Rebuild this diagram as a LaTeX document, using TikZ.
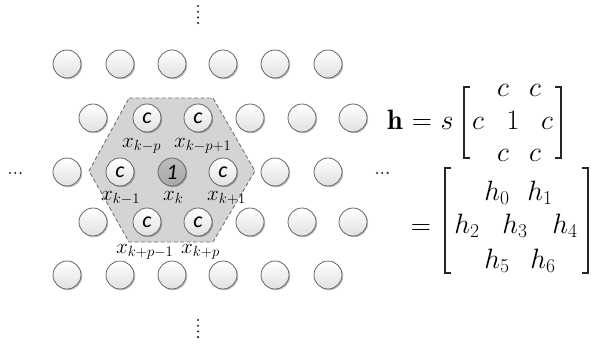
\RequirePackage{fix-cm}
\documentclass[tikz,border=0pt]{standalone}
\usepackage{fontspec}
\newfontfamily\cfont{Carlito}
\usetikzlibrary{shadows}
\tikzset{
  dot/.style={circle,fill=black!85,inner sep=0pt,minimum size=2.3pt},
  ball/.style={circle,minimum size=28pt,inner sep=0pt,draw=black!60,line width=0.8pt,
    top color=white,bottom color=black!12,
    drop shadow={shadow xshift=1.2pt,shadow yshift=-1.2pt,fill=black,opacity=0.25}},
  cball/.style={ball,font=\cfont\itshape\fontsize{22}{22}\selectfont},
  oneball/.style={cball,top color=black!26,bottom color=black!34},
  lab/.style={anchor=base west,inner sep=0pt,font=\fontsize{21}{22}\selectfont},
  eq/.style={anchor=base,inner sep=0pt,font=\fontsize{28}{30}\selectfont},
  brk/.style={line width=1.5pt,black!85},
  hexa/.style={fill=black!17,draw=black!55,dashed,dash pattern=on 4pt off 2.5pt,line width=0.9pt}
}
\begin{document}
\begin{tikzpicture}[x=1pt,y=-1pt]
\useasboundingbox (0,0) rectangle (591,345);
% hexagon
\draw[hexa] (129,98) -- (213,98) -- (255,171) -- (213,242) -- (129,242) -- (89,171) -- cycle;
% rows of plain circles
\foreach \x [count=\i] in {67,120,172,223,275,328}{
  \node[ball] (ra\i) at (\x,64) {};
  \node[ball] (re\i) at (\x,275) {};
}
\foreach \x [count=\i] in {93,250,302,353}{
  \node[ball] (rb\i) at (\x,118) {};
  \node[ball] (rd\i) at (\x,222) {};
}
\foreach \x [count=\i] in {67,275,328}{
  \node[ball] (rc\i) at (\x,172) {};
}
% kernel circles
\node[cball] (kmp) at (147,118) {c};
\node[cball] (kmp1) at (198,118) {c};
\node[cball] (km1) at (120,172) {c};
\node[oneball] (k0) at (172,172) {1};
\node[cball] (kp1) at (223,172) {c};
\node[cball] (kpm1) at (147,222) {c};
\node[cball] (kpp) at (198,222) {c};
% labels
\node[lab] (lkmp) at (122,147) {$x_{k-p}$};
\node[lab] (lkmp1) at (174,147) {$x_{k-p+1}$};
\node[lab] (lkm1) at (101,200) {$x_{k-1}$};
\node[lab] (lk) at (163,200) {$x_{k}$};
\node[lab] (lkp1) at (207,200) {$x_{k+1}$};
\node[lab] (lkpm1) at (116,253) {$x_{k+p-1}$};
\node[lab] (lkpp) at (181,253) {$x_{k+p}$};
% dots
\foreach \y [count=\i] in {6,11.7,17.4,23.1}{\node[dot] (dt\i) at (198,\y) {};}
\foreach \y [count=\i] in {320,325.7,331.4,337.1}{\node[dot] (db\i) at (198,\y) {};}
\foreach \x [count=\i] in {10,15.3,20.6}{\node[dot] (dl\i) at (\x,173) {};}
\foreach \x [count=\i] in {377,382.3,387.6}{\node[dot] (dr\i) at (\x,173) {};}
% equation 1
\node[eq] (hb) at (395,129) {$\mathbf{h}$};
\node[eq] (eq1) at (422,129) {$=$};
\node[eq] (s) at (447,129) {$s$};
\draw[brk] (470,87) -- (464,87) -- (464,158) -- (470,158);
\draw[brk] (555,87) -- (561,87) -- (561,158) -- (555,158);
\node[eq] (m11) at (503,96) {$c$};
\node[eq] (m12) at (535,96) {$c$};
\node[eq] (m21) at (478,129) {$c$};
\node[eq] (m22) at (513,129) {$1$};
\node[eq] (m23) at (547,129) {$c$};
\node[eq] (m31) at (503,161) {$c$};
\node[eq] (m32) at (535,161) {$c$};
% equation 2
\node[eq] (eq2) at (421,234) {$=$};
\draw[brk] (451,168) -- (445,168) -- (445,273) -- (451,273);
\draw[brk] (582,168) -- (588,168) -- (588,273) -- (582,273);
\node[eq] (h0) at (497,200) {$h_0$};
\node[eq] (h1) at (540,200) {$h_1$};
\node[eq] (h2) at (467,233) {$h_2$};
\node[eq] (h3) at (515,233) {$h_3$};
\node[eq] (h4) at (565,233) {$h_4$};
\node[eq] (h5) at (497,268) {$h_5$};
\node[eq] (h6) at (543,268) {$h_6$};
\end{tikzpicture}
\end{document}
